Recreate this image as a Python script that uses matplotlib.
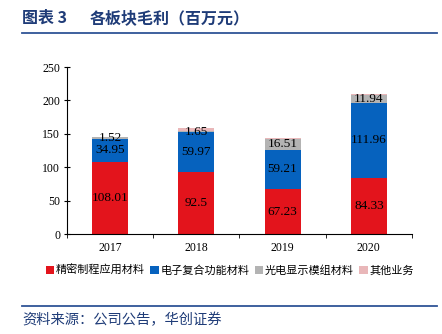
import matplotlib.pyplot as plt
import numpy as np

plt.rcParams['font.family'] = ['Liberation Serif', 'Noto Sans CJK SC']

years = ['2017', '2018', '2019', '2020']
precision = [108.01, 92.5, 67.23, 84.33]
composite = [34.95, 59.97, 59.21, 111.96]
display = [1.52, 1.65, 16.51, 11.94]
others = [0.6, 4.5, 0.5, 2.0]

series_names = ['精密制程应用材料', '电子复合功能材料', '光电显示模组材料', '其他业务']
colors = ['#E3141C', '#0662BE', '#B3B3B3', '#E9B7B9']
label_series = [True, True, True, False]

fig = plt.figure(figsize=(4.42, 3.34), dpi=100)
ax = fig.add_axes([0.1516, 0.2994, 0.7805, 0.5])

x = np.arange(len(years))
bottom = np.zeros(len(years))
handles = []
for vals, name, c, show in zip([precision, composite, display, others],
                                series_names, colors, label_series):
    vals = np.array(vals)
    bars = ax.bar(x, vals, 0.42, bottom=bottom, color=c, label=name)
    handles.append(bars)
    if show:
        for xi, b, v in zip(x, bottom, vals):
            ax.text(xi, b + v / 2, '{:g}'.format(v), ha='center', va='center',
                    fontsize=9.5, family='Liberation Serif', color='black')
    bottom += vals

ax.set_xlim(-0.5, 3.5)
ax.set_ylim(0, 250)
ax.set_yticks([0, 50, 100, 150, 200, 250])
ax.set_xticks(x)
ax.set_xticklabels(years)
ax.set_xticks(np.arange(-0.5, 4, 1), minor=True)
ax.tick_params(axis='x', which='major', length=0, pad=6, labelsize=8.5)
ax.tick_params(axis='x', which='minor', length=3, direction='out')
ax.tick_params(axis='y', length=4, direction='inout', labelsize=8.5, pad=3)
for s in ['top', 'right']:
    ax.spines[s].set_visible(False)

leg = fig.legend(handles=handles, loc='center', bbox_to_anchor=(0.52, 0.19), ncol=4,
                 frameon=False, handlelength=0.75, handleheight=0.75,
                 handletextpad=0.15, columnspacing=0.5,
                 prop={'family': 'Noto Sans CJK SC', 'size': 8})

# header and footer
navy = '#1F3C78'
cjk = ['Noto Sans CJK SC', 'DejaVu Sans']
fig.text(22 / 442, 1 - 18 / 334, '图表 3', fontsize=11.5,
         fontweight='bold', color=navy, va='center', family=cjk)
fig.text(90 / 442, 1 - 18 / 334, '各板块毛利（百万元）', fontsize=11.5,
         fontweight='bold', color=navy, va='center', family=cjk)
fig.add_artist(plt.Line2D([22 / 442, 437 / 442], [1 - 33 / 334, 1 - 33 / 334],
                          color='#2F5496', lw=1.3))
fig.add_artist(plt.Line2D([22 / 442, 437 / 442], [1 - 306 / 334, 1 - 306 / 334],
                          color='#2F5496', lw=1.3))
fig.text(22 / 442, 1 - 320 / 334, '资料来源：公司公告，华创证券', fontsize=10.3,
         style='italic', color=navy, va='center', family=cjk)

fig.savefig('out.png', dpi=100)
